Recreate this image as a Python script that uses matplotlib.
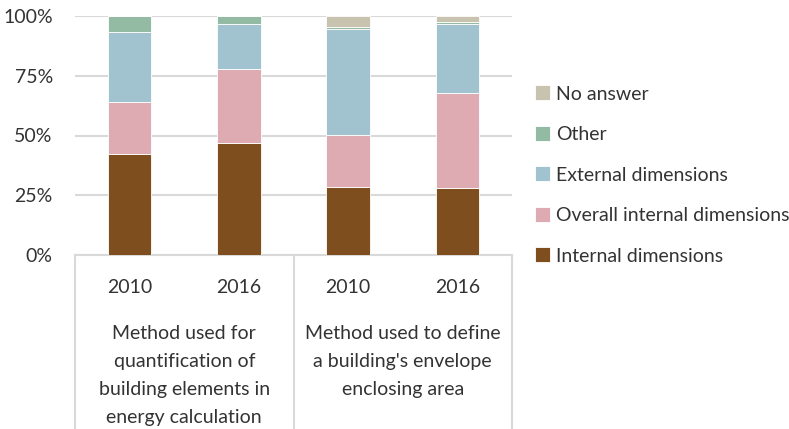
import numpy as np
import matplotlib
matplotlib.use("Agg")
import matplotlib.pyplot as plt

plt.rcParams['font.family'] = ['Lato', 'DejaVu Sans']

# Données (parts en %)
years = ['2010', '2016', '2010', '2016']
groups = ["Method used for\nquantification of\nbuilding elements in\nenergy calculation",
          "Method used to define\na building's envelope\nenclosing area"]
series = ['Internal dimensions', 'Overall internal dimensions',
          'External dimensions', 'Other', 'No answer']
internal = [42.1, 46.9, 28.3, 28.2]
overall = [22.0, 30.8, 22.0, 39.7]
external = [29.1, 18.8, 44.1, 28.6]
other = [6.8, 3.5, 1.0, 0.9]
no_answer = [0.0, 0.0, 4.6, 2.6]
colors = ['#7f4e1e', '#dfabb2', '#a0c3cf', '#93baa3', '#c8c3ae']

values = [internal, overall, external, other, no_answer]
fs = 14

fig = plt.figure(figsize=(7.89, 4.29), dpi=100)
ax = fig.add_axes([75/789, (429-255)/429, 437/789, 239/429])

x = np.arange(len(years))
bottom = np.zeros(len(years))
for vals, name, c in zip(values, series, colors):
    ax.bar(x, vals, 0.4, bottom=bottom, color=c, label=name,
           edgecolor='white', linewidth=0.6, zorder=3)
    bottom += np.array(vals)

ax.set_xlim(-0.5, len(years) - 0.5)
ax.set_ylim(0, 100)
ax.set_yticks([0, 25, 50, 75, 100])
ax.set_yticklabels(['0%', '25%', '50%', '75%', '100%'], fontsize=fs, color='#333333')
ax.tick_params(axis='y', length=0, pad=16)
ax.yaxis.grid(True, color='#d9d9d9', linewidth=1.5, zorder=0)
for s in ['left', 'right', 'top', 'bottom']:
    ax.spines[s].set_visible(False)
ax.set_xticks([])

# axe à deux niveaux
ybot = -174/239
ax.plot([0, 1], [0, 0], transform=ax.transAxes, color='#d9d9d9', lw=1.5, clip_on=False)
for xv in [0, 0.5, 1]:
    ax.plot([xv, xv], [0, ybot], transform=ax.transAxes, color='#d9d9d9', lw=1.5, clip_on=False)

for i, yr in enumerate(years):
    ax.text(x[i], -13.5, yr, ha='center', va='center', fontsize=fs, color='#333333')
for g, lab in enumerate(groups):
    ax.text(0.5 + 2*g, -29.3, lab, ha='center', va='top', fontsize=fs,
            color='#333333', linespacing=1.78)

h, l = ax.get_legend_handles_labels()
leg = fig.legend(h[::-1], l[::-1], loc='center left', bbox_to_anchor=(527/789, 1 - 175/429),
                 frameon=False, fontsize=fs, handlelength=0.8, handleheight=0.8,
                 handletextpad=0.3, labelspacing=1.2, borderaxespad=0)
for t in leg.get_texts():
    t.set_color('#333333')

fig.savefig('out.png', dpi=100)
